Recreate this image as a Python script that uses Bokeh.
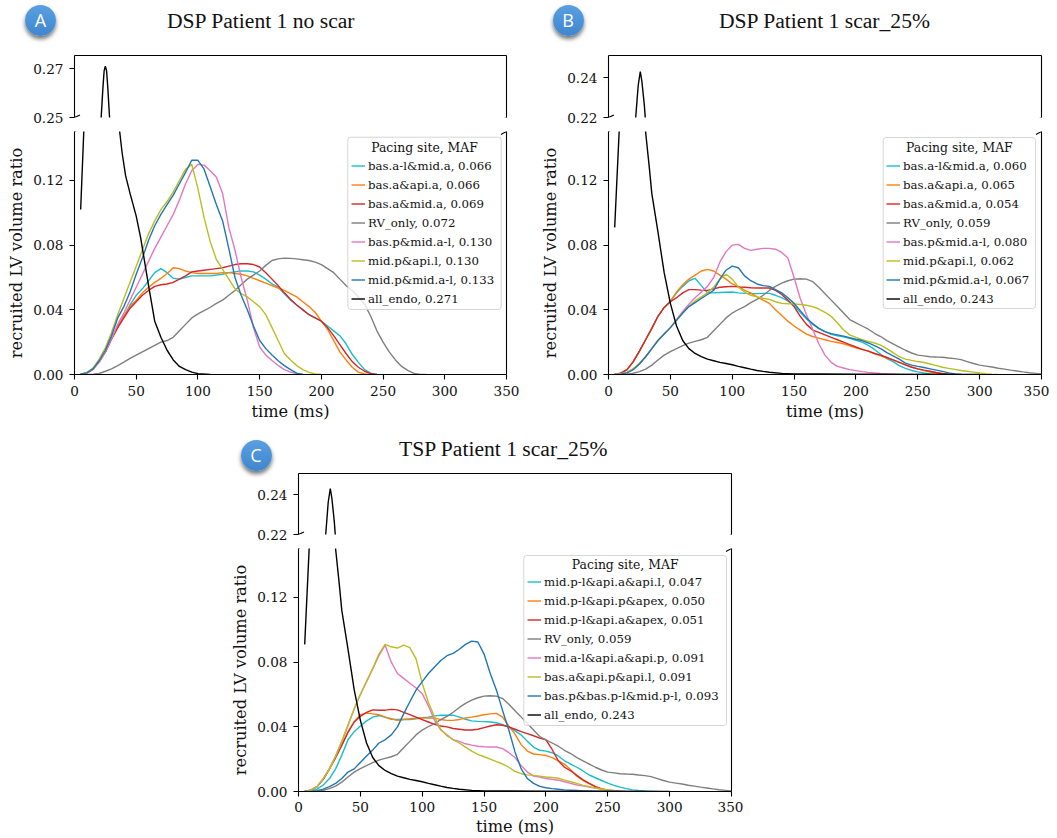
from bokeh.embed import file_html
from bokeh.resources import INLINE
from bokeh.layouts import column, row
from bokeh.models import (Arrow, BoxAnnotation, Div, FixedTicker, Label, Legend, LegendItem, LinearAxis,
                          NumeralTickFormatter, Range1d, Spacer)
from bokeh.plotting import figure

TIME = list(range(5, 355, 5))
X_TICKS = [0, 50, 100, 150, 200, 250, 300, 350]
LOW_TICKS = [0.0, 0.04, 0.08, 0.12]
COLORS = ["#17becf", "#ff7f0e", "#d62728", "#7f7f7f", "#e377c2", "#bcbd22", "#1f77b4", "#000000"]

# ---- Panel A: recruited volume ratio x 1000, sampled every 5 ms from 5 ms on
A_LABELS = ["bas.a-l&mid.a, 0.066", "bas.a&api.a, 0.066", "bas.a&mid.a, 0.069", "RV_only, 0.072",
            "bas.p&mid.a-l, 0.130", "mid.p&api.l, 0.130", "mid.p&mid.a-l, 0.133", "all_endo, 0.271"]
A_CYAN = [.2, 1, 3.5, 8, 14, 22, 30, 36, 43, 49, 53, 58, 63, 65.5, 63, 59.5, 59, 60, 61, 61, 61, 61, 61.5, 62, 63, 63.5, 64, 64, 63.5, 61.5, 59, 56, 54, 50, 46, 43, 40, 37, 35, 33, 30, 27, 24, 19, 12.5, 7.5, 3, .8, 0]
A_ORANGE = [.2, 1, 3.5, 8, 14, 22, 29, 36, 42, 46, 50.5, 54, 57, 59.5, 62.5, 66, 65.5, 64, 63, 62.5, 62.5, 62.5, 62.5, 63, 63, 62.5, 62, 61, 59.5, 58, 56.5, 55, 53.5, 52, 50, 48, 45, 42, 38.5, 33, 28, 21, 14, 9, 4.5, 1.5, .3, 0]
A_RED = [.2, 1, 3.5, 8, 14, 22, 29, 35, 41, 45, 49, 52, 54.5, 55.5, 56, 57, 59, 61, 63.5, 64, 64.5, 65, 65.5, 66, 67, 68, 68.5, 68.5, 68, 66.5, 63, 59, 55, 50.5, 46.5, 43, 40, 37, 35, 33, 29, 24, 18.5, 13, 8, 4.5, 2, .5, 0]
A_GRAY = [0, 0, .2, .6, 2, 3.5, 5.5, 7.6, 10, 12, 14, 16, 18, 20, 21, 23, 27, 31, 35, 37.5, 39.5, 41.6, 44, 46, 49, 52, 55.5, 59, 61.5, 64, 67.5, 70.5, 71.5, 72, 71.8, 71.5, 71, 70.5, 69.5, 68, 65.5, 63, 59, 55, 52, 48, 43.5, 36, 27, 20, 14, 9, 5, 2.5, .7, .1, 0]
A_PINK = [.1, .8, 3, 7.5, 14, 22, 31, 38, 46, 54, 62, 70, 78, 85, 92, 99, 108, 118, 126, 130, 129.5, 126, 122, 112, 91, 77, 60, 46, 29, 17, 12, 8.7, 5.6, 3, 1.5, .5, 0]
A_OLIVE = [.2, 1.2, 4, 9.5, 16.5, 26, 37, 47, 57, 67, 77, 87, 95, 102, 107, 113, 120, 127, 130, 115, 97, 82, 71, 65, 59, 53, 50, 48, 45, 42, 37, 29, 21, 13, 9, 5.5, 3, 1.3, .3, 0]
A_BLUE = [.2, 1, 3.5, 8.5, 15, 24, 35, 42, 51, 62, 72, 83, 92, 99, 105, 111, 118, 125, 132.5, 132.5, 127, 116, 105, 95, 78, 60, 49, 40, 30, 21, 16, 12, 8.5, 5.5, 3, .8, 0]
A_ENDO_T = [5, 7.5, 10, 15, 20, 21.6, 23, 24, 25, 26, 27, 28.4, 30, 32, 36.5, 38.6, 41.4, 45, 50, 53.5, 60, 65, 70, 75, 80, 85, 90, 95, 100, 110]
A_ENDO = [102, 150, 198, 232, 246, 250, 262, 269, 271, 269, 262, 250, 233, 205, 151, 137, 123, 112, 98, 85, 55, 33, 23, 15, 9, 5, 3, 1.5, .5, 0]

# ---- Panel B
B_LABELS = ["bas.a-l&mid.a, 0.060", "bas.a&api.a, 0.065", "bas.a&mid.a, 0.054", "RV_only, 0.059",
            "bas.p&mid.a-l, 0.080", "mid.p&api.l, 0.062", "mid.p&mid.a-l, 0.067", "all_endo, 0.243"]
B_CYAN = [0, .8, 3, 8, 14.5, 21.5, 28.5, 36, 41.5, 45.5, 50.5, 54.5, 58, 59.5, 55, 50.5, 50.5, 50.7, 50.9, 51, 50.5, 50.2, 50, 50, 50.2, 50.2, 49, 47.5, 45.5, 42.5, 38.5, 34.4, 31, 28.5, 26.5, 24.8, 24, 23.3, 22.3, 21.2, 20, 18, 15.5, 12.5, 9.8, 8, 5.5, 3.8, 2.5, 1.6, .9, .4, .1, 0]
B_ORANGE = [0, .8, 3, 8, 14.5, 21.5, 28.5, 36, 41.5, 45, 51, 55.5, 59, 61.5, 64, 65, 64, 61.5, 59, 56, 54.5, 52, 50.5, 48, 46, 44, 40, 36.5, 33, 30, 27.5, 25, 23.5, 22.5, 21.5, 20.5, 19.8, 19, 17.8, 16.5, 15.5, 14.5, 13, 11.5, 10.2, 9, 7.5, 6, 4.7, 3.5, 2.4, 1.5, .8, .3, 0]
B_RED = [0, .8, 3, 8, 14.5, 21.5, 28.5, 36, 41.5, 45, 47.5, 50.5, 52.5, 52.5, 52.2, 52, 53, 54, 54.3, 54.5, 54.2, 54, 53.7, 53.5, 53.5, 53.5, 52, 49.5, 46, 42, 36, 31, 27.5, 26, 24.5, 23, 21.5, 20, 18.5, 17, 15.5, 14.5, 13, 12, 10.5, 9, 7.5, 6, 4.5, 3.5, 2.7, 2, 1.2, .6, .2, 0]
B_GRAY = [0, 0, .2, .8, 1.8, 3.3, 5.8, 9, 12, 14.2, 16, 17.8, 19.4, 20.5, 21.5, 23, 27, 31, 35, 38, 40.2, 42, 44.5, 46.5, 49, 52, 54.5, 56.5, 58, 59, 59.2, 59, 57.5, 54, 50, 46, 42, 38, 34, 32, 30, 28, 25.5, 23.5, 21, 19, 17, 15, 13.3, 12, 11.5, 11, 10.8, 10.7, 10.2, 9.8, 9.2, 8, 6.8, 5.8, 5.2, 4.6, 3.9, 3.3, 2.7, 2.2, 1.6, 1.1, .7, .3]
B_PINK = [0, .3, 1.3, 3.5, 6.5, 11, 16, 21, 25, 29, 34, 39, 43.5, 47.5, 51, 54.5, 60, 69.5, 76, 80, 80.5, 78, 76.8, 77.5, 78, 78, 77.5, 75.5, 72, 60, 47, 37, 28, 19, 12, 7.5, 5, 4, 3, 2.4, 1.8, 1.3, .9, .6, .4, .2, 0]
B_OLIVE = [0, .3, 1.3, 3.5, 7, 11, 16, 21, 25, 29, 33.5, 38, 42, 45.5, 48, 50.5, 54, 59, 62, 59, 54, 51, 49, 48, 47.2, 46.5, 45, 44, 43.8, 43.7, 43.3, 42.8, 42, 40.5, 38.5, 36, 32, 27.5, 24.5, 23, 21.5, 20.5, 19.5, 18.2, 16, 13.5, 11, 9.5, 8.7, 8, 7.4, 6.5, 5.5, 4.5, 3.8, 3.2, 2.5, 2, 1.5, .9, .5, .2, 0]
B_BLUE = [0, .2, 1, 3, 6.5, 11, 16, 21, 25, 29, 33.5, 38, 42, 44.5, 47, 49.5, 52, 59, 64.5, 67, 66, 61, 58, 56, 55, 54.5, 52.5, 50.5, 47.5, 44, 39.5, 35, 31.5, 28.5, 26.5, 25.3, 24.5, 23.7, 22.7, 21.8, 21, 19.5, 17.8, 16, 13.5, 11.5, 9.5, 7, 5.8, 5, 4.3, 3.5, 2.7, 1.9, 1, .3, 0]
B_ENDO_T = [5, 8.6, 12, 15, 20, 22, 24, 25.7, 27, 29, 29.7, 30, 33, 35, 40, 45, 50, 55, 60, 65, 70, 75, 80, 85, 90, 95, 100, 105, 110, 115, 120, 125, 130, 140, 150, 170, 200, 300]
B_ENDO = [91, 150, 178, 195, 213, 220, 236, 243, 238, 226, 220, 150, 128, 112, 88, 63, 44, 30, 21, 16, 13, 11, 9.5, 8.5, 7.5, 6.8, 6, 5, 4.2, 3.3, 2.5, 1.9, 1.4, .7, .4, .3, .2, 0]

# ---- Panel C (RV_only and all_endo are the same curves as in panel B)
C_LABELS = ["mid.p-l&api.a&api.l, 0.047", "mid.p-l&api.p&apex, 0.050", "mid.p-l&api.a&apex, 0.051", "RV_only, 0.059",
            "mid.a-l&api.a&api.p, 0.091", "bas.a&api.p&api.l, 0.091", "bas.p&bas.p-l&mid.p-l, 0.093", "all_endo, 0.243"]
C_CYAN = [0, .4, 1.5, 4, 8, 14, 22.5, 32, 37, 40.5, 43.7, 46, 47, 46, 44.7, 44.5, 44.5, 44.5, 45, 45.6, 46, 46.8, 47.2, 47.2, 47.2, 46, 44.7, 43.7, 43.4, 43.2, 43, 42.5, 41.4, 39.6, 37.5, 35, 31, 27.5, 25.5, 25, 24, 22, 19, 17, 15, 12.7, 10.2, 8.5, 6.8, 5.2, 3.8, 2.7, 1.8, 1, .6, .3, .1, 0]
C_ORANGE = [0, .8, 3, 7.5, 14, 21, 29, 37, 43, 47.5, 48.5, 48, 47.5, 46, 45, 44, 44.5, 45, 45.3, 45.5, 45.5, 45.5, 44.5, 44, 44, 44.5, 45.5, 46, 46.7, 47.5, 48, 48.3, 46, 40.5, 35.5, 29, 25, 23.2, 22.8, 22.3, 21, 19, 17, 13.5, 9.5, 6.8, 4.8, 3, 1.8, .9, .3, 0]
C_RED = [0, .8, 3, 7.5, 14, 21, 28.5, 36.5, 43, 46.5, 49, 50.5, 50.3, 50.3, 50.8, 50.5, 49, 47.5, 46, 44.5, 43, 41.5, 40.5, 40, 39, 38.5, 38, 38, 38.5, 39.5, 40.5, 41.3, 41, 40, 38.5, 37, 35.8, 34.5, 33, 32, 26, 19, 15, 12.8, 10, 7.2, 5, 3, 1.5, .7, .2, 0]
C_PINK = [0, .8, 3, 8, 14, 22, 31, 41, 51, 60, 68, 76, 84, 90.5, 80, 73, 70, 67, 64, 60.5, 53, 44, 38, 35, 32, 31, 29.5, 28.7, 28, 27.7, 27.5, 27.5, 26.5, 24, 21, 16, 12, 9.5, 9, 8, 7.5, 7, 6, 5, 4, 3.5, 2.7, 2.2, 1.5, 1, .6, .3, .1, 0]
C_OLIVE = [0, .8, 3, 8, 14, 22, 31, 41, 51, 60, 68, 76, 85, 91, 89.5, 88.7, 90.5, 89, 82, 67, 55, 46, 38.5, 34.5, 32, 30, 27.5, 25, 23, 21.5, 20, 18.5, 17, 15, 12.5, 11, 10.3, 10, 9.5, 9, 8.7, 8.2, 7, 6, 5, 3.8, 3, 2.2, 1.5, .9, .4, .1, 0]
C_BLUE = [0, .1, .5, 1.5, 3, 5, 8, 12, 14, 18, 22, 25.6, 30, 32, 35, 40, 48, 55.5, 62.7, 68, 73, 77, 81, 84, 85.4, 88, 91, 93, 92.5, 85, 73, 62.7, 50, 38, 24.5, 14, 8, 5, 3.2, 2.3, 1.8, 1.4, 1, .8, .6, .4, .3, .2, .15, .1, .05, 0]

A_SERIES = [A_CYAN, A_ORANGE, A_RED, A_GRAY, A_PINK, A_OLIVE, A_BLUE]
B_SERIES = [B_CYAN, B_ORANGE, B_RED, B_GRAY, B_PINK, B_OLIVE, B_BLUE]
C_SERIES = [C_CYAN, C_ORANGE, C_RED, B_GRAY, C_PINK, C_OLIVE, C_BLUE]

SERIF = "DejaVu Serif"
PX_Y = 1616.7


def style_axis(ax, ticks=None, fmt=None, standoff=6):
    ax.ticker = FixedTicker(ticks=ticks or [])
    ax.minor_tick_line_color = None
    ax.major_tick_out = 5
    ax.major_tick_in = 0
    ax.axis_line_color = "black"
    ax.axis_line_width = 1.1
    ax.major_tick_line_color = "black"
    ax.major_tick_line_width = 1.1
    ax.major_label_text_font = SERIF
    ax.major_label_text_font_size = "13.6px"
    ax.major_label_text_color = "#111111"
    ax.major_label_standoff = standoff
    ax.axis_label_text_font = SERIF
    ax.axis_label_text_font_style = "normal"
    ax.axis_label_text_font_size = "16.2px"
    ax.axis_label_text_color = "#111111"
    if fmt:
        ax.formatter = NumeralTickFormatter(format=fmt)


def new_fig(w, h, left, right, top, bottom, ymin, ymax):
    p = figure(width=w, height=h, min_border_left=left, min_border_right=right, min_border_top=top,
               min_border_bottom=bottom, x_range=Range1d(0, 350), y_range=Range1d(ymin, ymax),
               output_backend="svg", toolbar_location=None, x_axis_location=None, y_axis_location=None,
               tools="")
    p.outline_line_color = None
    p.xgrid.visible = False
    p.ygrid.visible = False
    p.background_fill_color = None
    p.border_fill_color = None
    return p


def break_marks(p, px_x, y_edge, ppy, dy0, dy1):
    for x_edge in (0, 350):
        p.add_layout(Arrow(end=None, x_start=x_edge - 5.5 / px_x, x_end=x_edge + 5.5 / px_x,
                           y_start=y_edge - dy0 / ppy, y_end=y_edge + dy1 / ppy,
                           line_color="black", line_width=1.1))


def panel(w, left, right, frame_w, top_border, upper_h, low_h, low_bottom, up_min, up_tick, ppy_up,
          series, labels, endo_t, endo, leg_x, leg_y, box, tick_so, xlab_so):
    px_x = frame_w / 350.0
    up_max = up_min + upper_h / ppy_up
    up = new_fig(w, top_border + upper_h + 7, left, right, top_border, 7, up_min, up_max)
    a = LinearAxis(); style_axis(a, up_tick, "0.00"); up.add_layout(a, "left")
    a = LinearAxis(); style_axis(a); up.add_layout(a, "right")
    a = LinearAxis(); style_axis(a); up.add_layout(a, "above")
    up.line(endo_t, [v / 1000 for v in endo], line_color=COLORS[7], line_width=1.4)
    break_marks(up, px_x, up_min, ppy_up, 2.5, 2.5)

    low_max = low_h / PX_Y
    lo = new_fig(w, 7 + low_h + low_bottom, left, right, 7, low_bottom, 0, low_max)
    a = LinearAxis(axis_label="recruited LV volume ratio", axis_label_standoff=4)
    style_axis(a, LOW_TICKS, "0.00"); lo.add_layout(a, "left")
    a = LinearAxis(); style_axis(a); lo.add_layout(a, "right")
    a = LinearAxis(axis_label="time (ms)", axis_label_standoff=xlab_so)
    style_axis(a, X_TICKS, standoff=tick_so); lo.add_layout(a, "below")
    rs = []
    for vals, col in zip(series, COLORS):
        rs.append(lo.line(TIME[:len(vals)], [v / 1000 for v in vals], line_color=col, line_width=1.4))
    rs.append(lo.line(endo_t, [v / 1000 for v in endo], line_color=COLORS[7], line_width=1.4))
    break_marks(lo, px_x, low_max, PX_Y, 3, 3)
    bl, br, bt, bb = box
    lo.add_layout(BoxAnnotation(left=bl / px_x, right=br / px_x, top=(low_h - bt) / PX_Y, bottom=bb / PX_Y,
                                fill_color="white", fill_alpha=0.8, line_color="#cccccc", line_alpha=0.8,
                                line_width=1, border_radius=3, level="annotation"))
    items = [LegendItem(label=lab, renderers=[r]) for lab, r in zip(labels, rs)]
    leg = Legend(items=items, location=(leg_x, leg_y), orientation="vertical", title="\u00a0",
                 title_text_font=SERIF, title_text_font_size="11.75px", title_standoff=5,
                 label_text_font=SERIF, label_text_font_size="11.75px", label_text_color="#111111",
                 label_standoff=3, glyph_width=14, glyph_height=15, label_height=15, spacing=4, padding=5, margin=0,
                 background_fill_alpha=0, border_line_color=None, level="annotation")
    lo.add_layout(leg, "center")
    lo.add_layout(Label(x=(bl + br) / 2 / px_x, y=(low_h - 16) / PX_Y, text="Pacing site, MAF",
                        text_font=SERIF, text_font_size="12.4px", text_color="#111111", level="overlay",
                        text_align="center", text_baseline="middle"))
    return up, lo


up_a, lo_a = panel(530, 74, 24, 432, 54, 62, 243, 49, 0.25, [0.25, 0.27], 2450.0,
                   A_SERIES, A_LABELS, A_ENDO_T, A_ENDO, 277, 68, (273.3, 426.7, 5.7, 65), 6, 3)
up_b, lo_b = panel(519, 78, 8, 433, 54, 62, 243, 49, 0.22, [0.22, 0.24], 2000.0,
                   B_SERIES, B_LABELS, B_ENDO_T, B_ENDO, 278, 68, (274.7, 427, 6, 66), 6, 3)
up_c, lo_c = panel(517, 72, 12, 433, 50, 61, 243, 47, 0.22, [0.22, 0.24], 2000.0,
                   C_SERIES, C_LABELS, B_ENDO_T, B_ENDO, 229, 69, (225.3, 428, 7, 66), 5, 2)


def badge(text, cx, cy):
    return (f'<div style="position:absolute;left:{cx - 15.5}px;top:{cy - 15.5}px;width:31px;height:31px;'
            'border-radius:50%;background:linear-gradient(#5a9fe0,#3f86cf);'
            'box-shadow:0 3px 4px rgba(0,0,0,.55);color:white;font:18px \'Open Sans\';'
            f'line-height:31px;text-align:center;z-index:10;">{text}</div>')


def heading(text, x, cy):
    return (f'<div style="position:absolute;left:{x}px;top:{cy - 12}px;height:24px;line-height:24px;'
            'font:21.6px \'Liberation Serif\';color:#111111;white-space:nowrap;z-index:10;">'
            f'{text}</div>')


overlay_html = (badge("A", 40.5, 20.5) + badge("B", 568, 20.5) + badge("C", 256, 455)
                + heading("DSP Patient 1 no scar", 167, 21)
                + heading("DSP Patient 1 scar_25%", 719, 21)
                + heading("TSP Patient 1 scar_25%", 399, 449))
badges = Div(text=overlay_html, width=1, height=1, margin=0, styles={"overflow": "visible", "z-index": "10"})

top_row = row(column(up_a, lo_a), column(up_b, lo_b), spacing=0)
bottom_row = row(Spacer(width=226, height=10), column(up_c, lo_c), spacing=0)
root = column(badges, top_row, bottom_row, spacing=0)
open("out.html", "w").write(file_html(root, INLINE))
